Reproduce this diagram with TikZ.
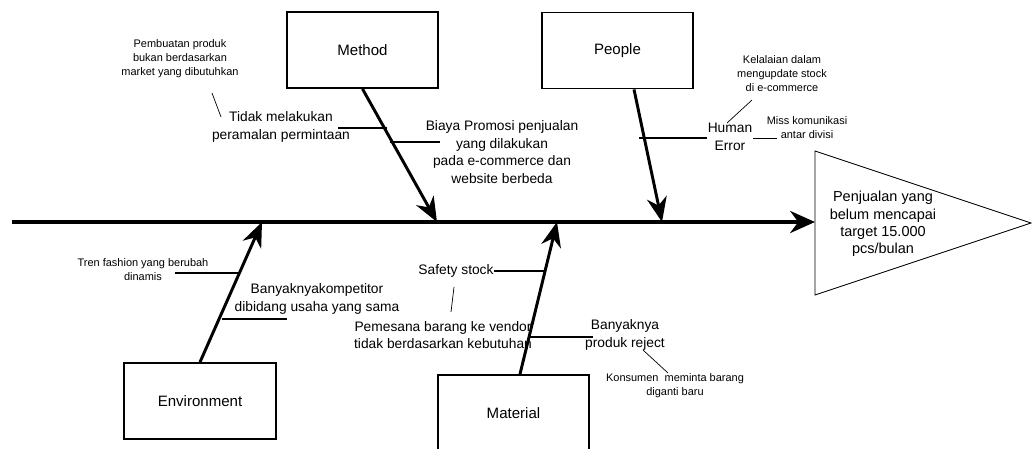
\documentclass[tikz,border=0pt]{standalone}
\usepackage{fontspec}
\setmainfont{Liberation Sans}
\usetikzlibrary{arrows.meta,positioning,calc}

\tikzset{
	cause/.style={draw,line width=1.3pt,minimum width=3.78cm,minimum height=1.9cm,font=\fontsize{10.7}{12}\selectfont},
	txt/.style={align=center,inner sep=0pt,font=\fontsize{9.8}{12.4}\selectfont},
	note/.style={align=center,inner sep=0pt,font=\fontsize{7.8}{10}\selectfont},
	bone/.style={line width=2.1pt,-{Stealth[length=0.62cm,width=0.5cm,inset=0.2cm]}},
	spine/.style={line width=2.8pt,-{Stealth[length=0.62cm,width=0.55cm,inset=0.2cm]}},
	twig/.style={line width=1.1pt},
	lead/.style={line width=0.5pt}
}

\begin{document}
\begin{tikzpicture}[x=0.025cm,y=-0.025cm]
		\useasboundingbox (0,0) rectangle (1032,448);
		% effect
		\draw[line width=0.6pt] (815,151) -- (1031,223) -- (815,295) -- cycle;
		\node[align=center,inner sep=0pt,font=\fontsize{10.3}{12.4}\selectfont] (effect) at (883,224) {Penjualan yang\\belum mencapai\\target 15.000\\pcs/bulan};
		\coordinate (tail) at (12,222);
		\coordinate (head) at (815,222);
		\draw[spine] (tail) -- (head);
		% causes
		\node[cause] (method) at (362.5,50) {Method};
		\node[cause] (people) at (617.5,50.5) {People};
		\node[cause] (env) at (200,401) {Environment};
		\node[cause] (material) at (513.5,413) {Material};
		\coordinate (m) at (437,222);
		\coordinate (p) at (662,222);
		\coordinate (e) at (262,222);
		\coordinate (t) at (557,222);
		\draw[bone] (method.south) -- (m);
		\draw[bone] ($(people.south)+(16.5,0)$) -- (p);
		\draw[bone] (env.north) -- (e);
		\draw[bone] ($(material.north)+(6.5,0)$) -- (t);
		% method
		\node[txt] (tidak) at (281,127) {Tidak melakukan\\peramalan permintaan};
		\node[txt] (biaya) at (502,152) {Biaya Promosi penjualan\\yang dilakukan\\pada e-commerce dan\\website berbeda};
		\node[note] (pembuatan) at (180,59) {Pembuatan produk\\bukan berdasarkan\\market yang dibutuhkan};
		\draw[twig] (338,128) -- (387,128);
		\draw[twig] (390,142) -- (440,142);
		\draw[lead] (212,93) -- (221,117);
		% people
		\node[txt] (human) at (730,137) {Human\\Error};
		\node[note] (miss) at (807,128) {Miss komunikasi\\antar divisi};
		\node[note] (kelalaian) at (782,74) {Kelalaian dalam\\mengupdate stock\\di e-commerce};
		\draw[twig] (639,138) -- (707,138);
		\draw[lead] (753,138) -- (777,138);
		\draw[lead] (752,100) -- (727,123);
		% environment
		\node[note] (tren) at (143,270) {Tren fashion yang berubah\\dinamis};
		\node[txt] (kompetitor) at (317,299) {Banyaknyakompetitor\\dibidang usaha yang sama};
		\draw[twig] (175,273) -- (239,273);
		\draw[twig] (222,319) -- (287,319);
		% material
		\node[txt] (safety) at (456,271) {Safety stock};
		\node[txt] (pemesana) at (443,335) {Pemesana barang ke vendor\\tidak berdasarkan kebutuhan};
		\node[txt] (reject) at (625,335) {Banyaknya\\produk reject};
		\node[note] (konsumen) at (675,386) {Konsumen\ \ meminta barang\\diganti baru};
		\draw[twig] (safety.east) -- (544,271);
		\draw[twig] (530,337) -- (593,337);
		\draw[lead] (454,287) -- (451,312);
		\draw[lead] (643,350) -- (668,373);
	\end{tikzpicture}
\end{document}
